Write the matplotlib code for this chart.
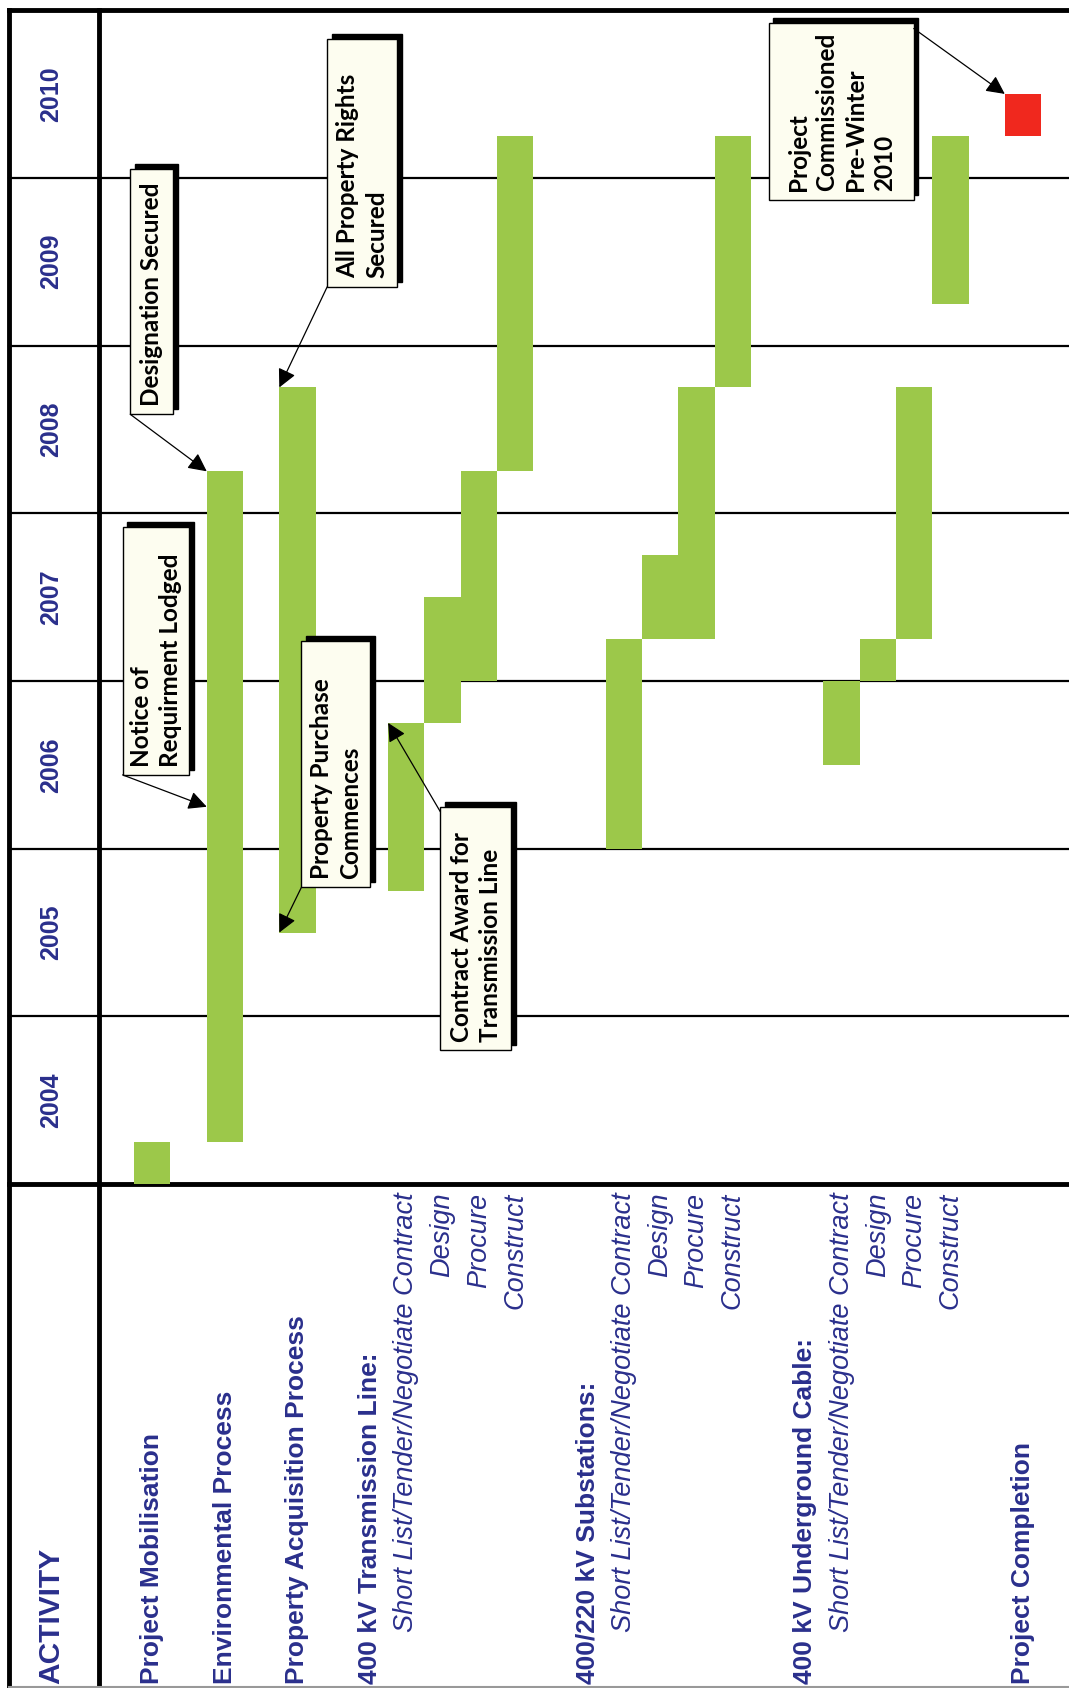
import matplotlib
matplotlib.use("Agg")
import matplotlib.pyplot as plt
from matplotlib.patches import Rectangle

# Time axis runs upwards, activities run left to right (chart is turned on its side)
years = [2004, 2005, 2006, 2007, 2008, 2009, 2010]

# Activity labels and the row each sits on
main_labels = ["Project Mobilisation", "Environmental Process", "Property Acquisition Process",
               "400 kV Transmission Line:", "400/220 kV Substations:", "400 kV Underground Cable:",
               "Project Completion"]
main_rows = [0, 2, 4, 6, 12, 18, 24]
sub_labels = ["Short List/Tender/Negotiate Contract", "Design", "Procure", "Construct"]
sub_rows = [7, 8, 9, 10, 13, 14, 15, 16, 19, 20, 21, 22]

# Green bars: row, start and end (decimal years)
bar_rows = [0, 2, 4, 7, 8, 9, 10, 13, 14, 15, 16, 19, 20, 21, 22]
bar_start = [2004.0, 2004.25, 2005.5, 2005.75, 2006.75, 2007.0, 2008.25,
             2006.0, 2007.25, 2007.25, 2008.75, 2006.5, 2007.0, 2007.25, 2009.25]
bar_end = [2004.25, 2008.25, 2008.75, 2006.75, 2007.5, 2008.25, 2010.25,
           2007.25, 2007.75, 2008.75, 2010.25, 2007.0, 2007.25, 2008.75, 2010.25]

# Red milestone
done_row = 24
done_start = 2010.25
done_end = 2010.5

# Callouts: text, row and date they point at
callout_text = ["Designation Secured", "All Property Rights\nSecured", "Notice of\nRequirment Lodged",
                "Property Purchase\nCommences", "Contract Award for\nTransmission Line",
                "Project\nCommissioned\nPre-Winter\n2010"]
callout_rows = [2, 4, 2, 4, 7, 24]
callout_dates = [2008.25, 2008.75, 2006.25, 2005.5, 2006.75, 2010.5]
# box extents (row0, row1, t0, t1) and which corner the arrow leaves from
callout_box = [(-0.61, 0.58, 2008.59, 2010.05), (4.82, 6.75, 2009.35, 2010.83),
               (-0.82, 1.02, 2006.44, 2007.92), (4.11, 6.01, 2005.77, 2007.24),
               (7.94, 9.90, 2004.80, 2006.25), (16.99, 20.99, 2009.87, 2010.92)]
callout_corner = ["bl", "bl", "bl", "bl", "tl", "tr"]

blue = "#2a2f8c"
green = "#9cc84a"
red = "#f0281e"

fig = plt.figure(figsize=(10.69, 16.88), dpi=100)
ax = fig.add_axes([0, 0, 1, 1])
ax.set_xlim(-4.2, 25.27)
ax.set_ylim(2000.996, 2011.06)
ax.axis("off")

left = -3.96
sep = -1.47
right = 25.27
bottom = 2001.0

# grid lines
for y in years[1:]:
    ax.plot([left, right], [y, y], color="black", lw=1.6, zorder=1)
ax.plot([left, right], [2004, 2004], color="black", lw=3.5, zorder=1)
ax.plot([left, right], [2011, 2011], color="black", lw=3.5, zorder=1)
ax.plot([left, left], [bottom, 2011], color="black", lw=3.5, zorder=1)
ax.plot([sep, sep], [bottom, 2011], color="black", lw=3.5, zorder=1)
ax.plot([left, right], [bottom, bottom], color="#999999", lw=1.5, zorder=1)

# year labels
for y in years:
    ax.text(-2.78, y + 0.5, str(y), rotation=90, ha="center", va="center",
            rotation_mode="anchor", color=blue, fontsize=18, fontweight="bold",
            family="Liberation Sans")
ax.text(-2.78, 2001.02, "ACTIVITY", rotation=90, ha="left", va="center",
        rotation_mode="anchor", color=blue, fontsize=21.5, fontweight="bold",
        family="Liberation Sans")

# activity labels
for r, lab in zip(main_rows, main_labels):
    ax.text(r, 2001.02, lab, rotation=90, ha="left", va="center", rotation_mode="anchor",
            color=blue, fontsize=19, fontweight="bold", family="Liberation Sans")
for k, r in enumerate(sub_rows):
    ax.text(r, 2003.95, sub_labels[k % 4], rotation=90, ha="right", va="center",
            rotation_mode="anchor", color=blue, fontsize=19.5, fontstyle="italic",
            family="Liberation Sans")

# bars
ax.bar(bar_rows, [e - s for s, e in zip(bar_start, bar_end)], bottom=bar_start,
       width=1.0, color=green, zorder=2)
ax.bar([done_row], [done_end - done_start], bottom=[done_start], width=1.0,
       color=red, zorder=2)

# callout boxes with drop shadow
dx, dy = 0.13, 0.03
for txt, r, d, box, corner in zip(callout_text, callout_rows, callout_dates,
                                  callout_box, callout_corner):
    x0, x1, t0, t1 = box
    ax.add_patch(Rectangle((x0 + dx, t0 + dy), x1 - x0, t1 - t0, facecolor="black",
                           edgecolor="black", zorder=4))
    ax.add_patch(Rectangle((x0, t0), x1 - x0, t1 - t0, facecolor="#fdfdf0",
                           edgecolor="black", lw=1.0, zorder=5))
    ax.text((x0 + x1) / 2, t0 + 0.05, txt, rotation=90, ha="left", va="center",
            rotation_mode="anchor", multialignment="left", fontsize=17.5,
            fontweight="bold", family="Lato", color="black", linespacing=1.3, zorder=6)
    sx = x0 if corner[1] == "l" else x1
    sy = t0 if corner[0] == "b" else t1 - 0.03
    ax.annotate("", xy=(r - 0.5, d), xytext=(sx, sy),
                arrowprops=dict(arrowstyle="-|>", color="black", lw=0.9,
                                mutation_scale=28, shrinkA=0, shrinkB=0), zorder=6)

fig.savefig("out.png", dpi=100)
